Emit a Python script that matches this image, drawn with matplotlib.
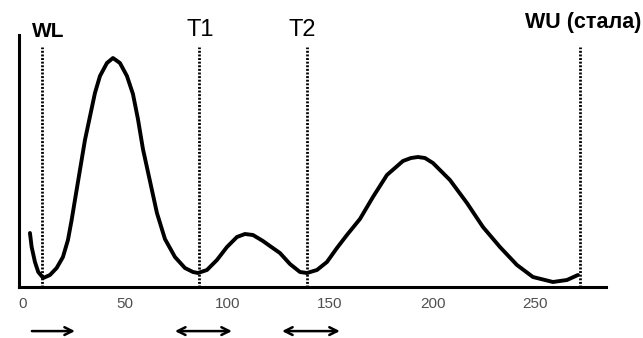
#!/usr/bin/env python3
"""Redraw of the WL / T1 / T2 / WU curve sketch."""

import matplotlib
matplotlib.use("Agg")
import matplotlib.pyplot as plt

plt.rcParams["font.family"] = ["Liberation Sans", "DejaVu Sans"]

# curve (x in axis units, y in arbitrary height units)
curve_x = [3.75, 4.58, 6.19, 7.80, 10.23, 13.50, 16.76, 19.83, 22.27, 24.07,
           25.68, 30.56, 35.43, 37.87, 41.28, 44.20, 47.61, 51.02, 53.95,
           56.38, 58.82, 62.23, 65.64, 69.54, 74.42, 79.29, 83.19, 85.62,
           90.01, 94.88, 99.76, 104.63, 108.53, 112.43, 117.30, 120.71,
           125.58, 130.46, 135.33, 138.74, 143.61, 148.49, 153.36, 158.23,
           164.57, 170.91, 177.73, 185.53, 189.43, 192.84, 196.25, 200.15,
           208.43, 216.72, 224.52, 232.80, 241.09, 248.88, 258.63, 265.45,
           270.81]
curve_y = [54, 40, 25, 15, 9, 12, 19, 30, 47, 67,
           87, 147, 194, 211, 224, 229, 224, 211, 193,
           168, 138, 106, 74, 48, 30, 19, 15, 14,
           17, 27, 40, 50, 53, 52, 46, 41,
           34, 23, 15, 14, 17, 25, 39, 52,
           68, 90, 112, 126, 129, 130, 129, 124,
           107, 84, 60, 40, 22, 10, 5, 7,
           12]

# dotted markers and their labels
marker_x = [9.6, 86.0, 139.0, 272.0]
marker_labels = ["WL", "T1", "T2", "WU (стала)"]
marker_top = 240

x_ticks = [0, 50, 100, 150, 200, 250]

# arrows under the axis: (start, end, double-headed)
arrow_spans = [(4.7, 25.7, False), (74.4, 102.2, True), (126.6, 154.8, True)]

fig = plt.figure(figsize=(6.43, 3.38), dpi=100)
ax = fig.add_axes([0.0295, 0.1509, 0.913, 0.7455])

ax.plot(curve_x, curve_y, color="black", lw=2.8, solid_capstyle="round",
        solid_joinstyle="round", zorder=3)

for x in marker_x:
    ax.plot([x, x], [0, marker_top], color="black", lw=2.0,
            linestyle=(0, (0.7, 0.6)), zorder=2)

# labels above the dotted lines
ax.text(12.5, 256, marker_labels[0], ha="center", va="center",
        fontsize=15, fontweight="bold")
ax.text(86.6, 257, marker_labels[1], ha="center", va="center", fontsize=17)
ax.text(136.3, 257, marker_labels[2], ha="center", va="center", fontsize=17)
ax.text(273.2, 265, marker_labels[3], ha="center", va="center",
        fontsize=15.5, fontweight="bold")

for x0, x1, both in arrow_spans:
    style = "<->" if both else "->"
    ax.annotate("", xy=(x1, -0.175), xytext=(x0, -0.175),
                xycoords=("data", "axes fraction"),
                textcoords=("data", "axes fraction"),
                arrowprops=dict(arrowstyle=style, color="black", lw=1.8,
                                mutation_scale=14, shrinkA=0, shrinkB=0))

ax.set_xlim(-1.6, 284.5)
ax.set_ylim(0, 252)
ax.set_xticks(x_ticks)
ax.set_xticklabels([str(t) for t in x_ticks])
ax.set_yticks([])
ax.tick_params(axis="x", length=0, pad=7, labelsize=11, labelcolor="#505050")

for side in ["top", "right"]:
    ax.spines[side].set_visible(False)
for side in ["left", "bottom"]:
    ax.spines[side].set_linewidth(2.2)
    ax.spines[side].set_color("black")

fig.savefig("out.png", dpi=100)
